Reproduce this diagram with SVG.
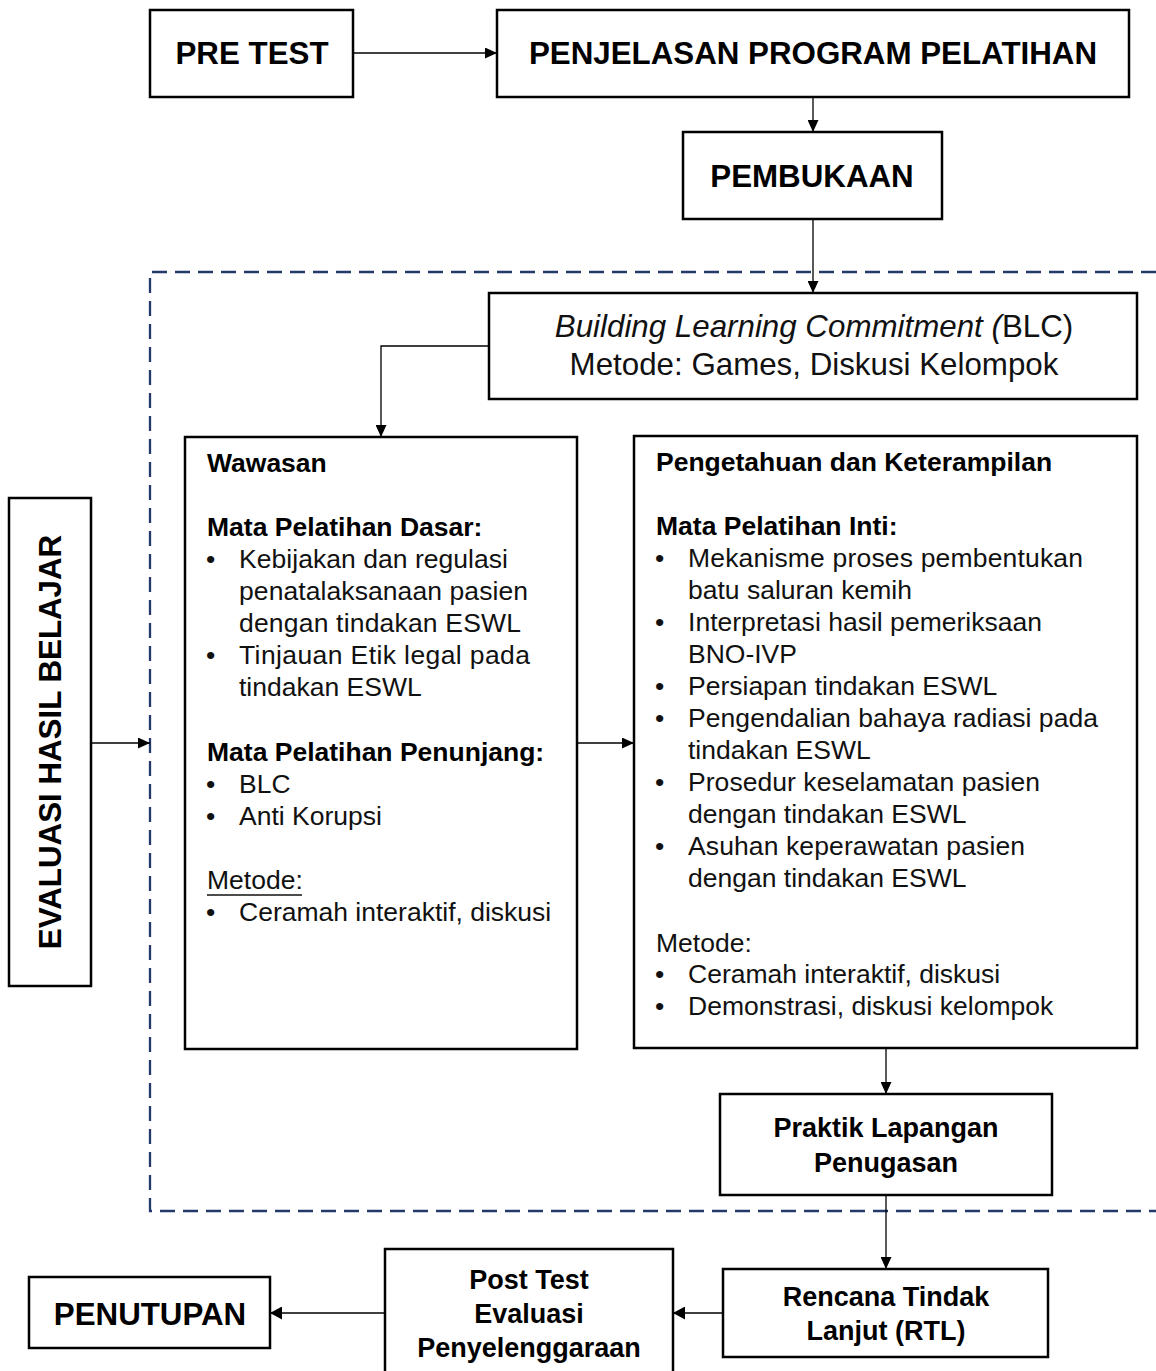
<svg xmlns="http://www.w3.org/2000/svg" width="1156" height="1371" viewBox="0 0 1156 1371">
<style>
.box{fill:#fff;stroke:#000;stroke-width:2.5}
.hd{font-family:"Liberation Sans",Arial,sans-serif;font-weight:bold;font-size:31.3px;fill:#000}
.nb{font-family:"Liberation Sans",Arial,sans-serif;font-weight:bold;font-size:27px;fill:#000}
.b{font-family:"Liberation Sans",Arial,sans-serif;font-weight:bold;font-size:26.5px;fill:#000}
.t{font-family:"Liberation Sans",Arial,sans-serif;font-size:26.5px;fill:#111}
.blc{font-family:"Liberation Sans",Arial,sans-serif;font-size:31.3px;fill:#111}
.c{text-anchor:middle}
.ln{fill:none;stroke:#000;stroke-width:1.3}
</style>
<defs>
<marker id="ar" viewBox="0 0 10 10" refX="10" refY="5" markerWidth="12" markerHeight="11" markerUnits="userSpaceOnUse" orient="auto" preserveAspectRatio="none">
<path d="M0,0 L10,5 L0,10 z" fill="#000"/>
</marker>
<marker id="arb" viewBox="0 0 10 10" refX="10" refY="5" markerWidth="12" markerHeight="13" markerUnits="userSpaceOnUse" orient="auto" preserveAspectRatio="none">
<path d="M0,0 L10,5 L0,10 z" fill="#000"/>
</marker>
</defs>
<rect width="1156" height="1371" fill="#fff"/>

<path d="M1156,272 H150 V1211 H1156" fill="none" stroke="#22396A" stroke-width="2.3" stroke-dasharray="15,8"/>

<g id="connectors">
<path class="ln" d="M353,53 H497" marker-end="url(#ar)"/>
<path class="ln" d="M813,97 V132" marker-end="url(#ar)"/>
<path class="ln" d="M813,219 V293" marker-end="url(#ar)"/>
<path class="ln" d="M489,346 H381 V437" marker-end="url(#ar)"/>
<path class="ln" d="M577,743 H634" marker-end="url(#ar)"/>
<path class="ln" d="M91,743 H150" marker-end="url(#ar)"/>
<path class="ln" d="M886,1048 V1094" marker-end="url(#ar)"/>
<path class="ln" d="M886,1195 V1269" stroke-width="1.8" marker-end="url(#ar)"/>
<path class="ln" d="M723,1313 H673" stroke-width="2" marker-end="url(#arb)"/>
<path class="ln" d="M385,1313 H270" stroke-width="2" marker-end="url(#arb)"/>
</g>

<g id="pretest">
<rect class="box" x="150" y="10" width="203" height="87"/>
<text class="hd c" x="252" y="64">PRE TEST</text>
</g>

<g id="penjelasan">
<rect class="box" x="497" y="10" width="632" height="87"/>
<text class="hd c" x="813" y="64">PENJELASAN PROGRAM PELATIHAN</text>
</g>

<g id="pembukaan">
<rect class="box" x="683" y="132" width="259" height="87"/>
<text class="hd c" x="812" y="187">PEMBUKAAN</text>
</g>

<g id="blc">
<rect class="box" x="489" y="293" width="648" height="106"/>
<text class="blc c" x="814" y="337"><tspan font-style="italic">Building Learning Commitment (</tspan>BLC)</text>
<text class="blc c" x="814" y="375">Metode: Games, Diskusi Kelompok</text>
</g>

<g id="evaluasi">
<rect class="box" x="9" y="498" width="82" height="488"/>
<text class="hd c" transform="translate(61,742) rotate(-90)" x="0" y="0">EVALUASI HASIL BELAJAR</text>
</g>

<g id="wawasan">
<rect class="box" x="185" y="437" width="392" height="612"/>
<text class="b" x="207" y="472">Wawasan</text>
<text class="b" x="207" y="536">Mata Pelatihan Dasar:</text>
<text class="t" x="206" y="568">•</text><text class="t" x="239" y="568" textLength="269" lengthAdjust="spacing">Kebijakan dan regulasi</text>
<text class="t" x="239" y="600" textLength="289" lengthAdjust="spacing">penatalaksanaan pasien</text>
<text class="t" x="239" y="632" textLength="282" lengthAdjust="spacing">dengan tindakan ESWL</text>
<text class="t" x="206" y="664">•</text><text class="t" x="239" y="664" textLength="291" lengthAdjust="spacing">Tinjauan Etik legal  pada</text>
<text class="t" x="239" y="696">tindakan ESWL</text>
<text class="b" x="207" y="761">Mata Pelatihan Penunjang:</text>
<text class="t" x="206" y="793">•</text><text class="t" x="239" y="793">BLC</text>
<text class="t" x="206" y="825">•</text><text class="t" x="239" y="825">Anti Korupsi</text>
<text class="t" x="207" y="889">Metode:</text>
<line x1="207" y1="895" x2="302" y2="895" stroke="#111" stroke-width="1.3"/>
<text class="t" x="206" y="921">•</text><text class="t" x="239" y="921">Ceramah interaktif, diskusi</text>
</g>

<g id="pengetahuan">
<rect class="box" x="634" y="436" width="503" height="612"/>
<text class="b" x="656" y="471">Pengetahuan dan Keterampilan</text>
<text class="b" x="656" y="535">Mata Pelatihan Inti:</text>
<text class="t" x="655" y="567">•</text><text class="t" x="688" y="567" textLength="395" lengthAdjust="spacing">Mekanisme proses  pembentukan</text>
<text class="t" x="688" y="599">batu saluran kemih</text>
<text class="t" x="655" y="631">•</text><text class="t" x="688" y="631" textLength="354" lengthAdjust="spacing">Interpretasi hasil pemeriksaan</text>
<text class="t" x="688" y="663">BNO-IVP</text>
<text class="t" x="655" y="695">•</text><text class="t" x="688" y="695">Persiapan tindakan ESWL</text>
<text class="t" x="655" y="727">•</text><text class="t" x="688" y="727" textLength="410" lengthAdjust="spacing">Pengendalian  bahaya radiasi pada</text>
<text class="t" x="688" y="759">tindakan ESWL</text>
<text class="t" x="655" y="791">•</text><text class="t" x="688" y="791" textLength="352" lengthAdjust="spacing">Prosedur keselamatan pasien</text>
<text class="t" x="688" y="823">dengan tindakan ESWL</text>
<text class="t" x="655" y="855">•</text><text class="t" x="688" y="855" textLength="337" lengthAdjust="spacing">Asuhan keperawatan pasien</text>
<text class="t" x="688" y="887">dengan tindakan ESWL</text>
<text class="t" x="656" y="952">Metode:</text>
<text class="t" x="655" y="983">•</text><text class="t" x="688" y="983">Ceramah interaktif, diskusi</text>
<text class="t" x="655" y="1015">•</text><text class="t" x="688" y="1015">Demonstrasi, diskusi kelompok</text>
</g>

<g id="praktik">
<rect class="box" x="720" y="1094" width="332" height="101"/>
<text class="nb c" x="886" y="1137">Praktik Lapangan</text>
<text class="nb c" x="886" y="1172">Penugasan</text>
</g>

<g id="rtl">
<rect class="box" x="723" y="1269" width="325" height="88"/>
<text class="nb c" x="886" y="1306">Rencana Tindak</text>
<text class="nb c" x="886" y="1340">Lanjut (RTL)</text>
</g>

<g id="posttest">
<rect class="box" x="385" y="1249" width="288" height="130"/>
<text class="nb c" x="529" y="1289">Post Test</text>
<text class="nb c" x="529" y="1323">Evaluasi</text>
<text class="nb c" x="529" y="1357">Penyelenggaraan</text>
</g>

<g id="penutupan">
<rect class="box" x="29" y="1277" width="241" height="71"/>
<text class="hd c" x="150" y="1325">PENUTUPAN</text>
</g>
</svg>
